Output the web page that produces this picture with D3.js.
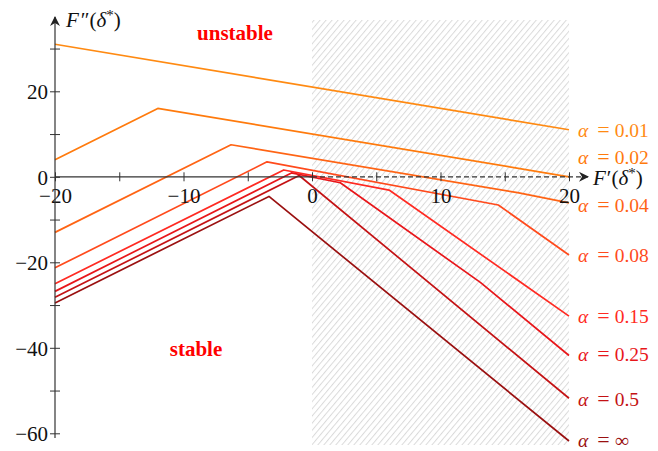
<!DOCTYPE html>
<html><head><meta charset="utf-8">
<script src="https://cdn.jsdelivr.net/npm/d3@7"></script>
<style>body{margin:0;background:#fff} svg{display:block}</style>
</head><body>
<svg id="c" width="658" height="451"></svg>
<script>
// ---- data ----
const alphaNames = ["0.01","0.02","0.04","0.08","0.15","0.25","0.5","∞"];
const lineColors = ["#ff8a12","#ff7a0c","#ff6414","#ff4a1c","#ff2a22","#e8161a","#c41214","#9a1010"];
const a001 = [[-20,31],[20,11]];
const a002 = [[-20,4],[-12,16],[20,0]];
const a004 = [[-20,-13],[-6.3,7.5],[16,-3.7],[20,-6.1]];
const a008 = [[-20,-21.3],[-3.5,3.5],[14.5,-6.6],[20,-18.3]];
const a015 = [[-20,-25],[-2.2,1.6],[6,-3.1],[20,-32.6]];
const a025 = [[-20,-26.8],[-1.6,0.9],[2.2,-1.4],[13.1,-24.7],[20,-41.8]];
const a05  = [[-20,-28.2],[-1.0,0.3],[20,-51.8]];
const aInf = [[-20,-29.5],[-3.35,-4.6],[20,-61.8]];
const labelAnchors = [11, 4.7, -6.6, -18.3, -32.6, -41.6, -52, -61.6];
const xTicks = [-20,-15,-10,-5,0,5,10,15,20];
const xTickLabels = [-20,-10,0,10,20];
const yTicks = [-60,-50,-40,-30,-20,-10,0,10,20,30];
const yTickLabels = [-60,-40,-20,0,20];
const series = [a001,a002,a004,a008,a015,a025,a05,aInf];

// ---- drawing ----
const svg = d3.select("#c");
const x = d3.scaleLinear([-20,20],[55,569]);
const y = d3.scaleLinear([-60,20],[433.3,91.3]);
const serif = "'Liberation Serif','DejaVu Serif',serif";
const minus = v => (v<0 ? "\u2212"+Math.abs(v) : ""+v);

// hatch pattern
const defs = svg.append("defs");
const pat = defs.append("pattern").attr("id","hatch").attr("patternUnits","userSpaceOnUse")
  .attr("width",4.6).attr("height",10).attr("patternTransform","rotate(40)");
pat.append("line").attr("x1",0.5).attr("y1",0).attr("x2",0.5).attr("y2",10)
  .attr("stroke","#dadada").attr("stroke-width",1);
svg.append("rect").attr("x",x(0)).attr("y",20).attr("width",x(20)-x(0)).attr("height",425)
  .attr("fill","url(#hatch)");

// arrow marker
defs.append("marker").attr("id","arr").attr("viewBox","0 0 10 10").attr("refX",9).attr("refY",5)
  .attr("markerWidth",10).attr("markerHeight",10).attr("markerUnits","userSpaceOnUse").attr("orient","auto")
  .append("path").attr("d","M0,0 L10,5 L0,10 L3,5 Z").attr("fill","#222");

// lines
const line = d3.line().x(d=>x(d[0])).y(d=>y(d[1]));
series.forEach((s,i)=>{
  svg.append("path").attr("d",line(s)).attr("fill","none")
    .attr("stroke",lineColors[i]).attr("stroke-width",1.7).attr("stroke-linejoin","round");
});

// x axis
const gx = svg.append("g").attr("transform",`translate(0,${y(0)})`)
  .call(d3.axisBottom(x).tickValues(xTicks).tickSize(0)
    .tickFormat(d=>xTickLabels.includes(d)?minus(d):""));
gx.select(".domain").remove();
gx.selectAll(".tick line").attr("y1",-4.5).attr("y2",4.5).attr("stroke","#333").attr("stroke-width",1);
gx.selectAll(".tick text").attr("y",11).attr("dy","0.71em").attr("font-family",serif)
  .attr("font-size",21).attr("fill","#111");
svg.append("line").attr("x1",x(-20)).attr("x2",x(0)).attr("y1",y(0)).attr("y2",y(0))
  .attr("stroke","#333").attr("stroke-width",1.2);
svg.append("line").attr("x1",x(0)).attr("x2",588).attr("y1",y(0)).attr("y2",y(0))
  .attr("stroke","#333").attr("stroke-width",1.2).attr("stroke-dasharray","5,3")
  .attr("marker-end","url(#arr)");

// y axis
const gy = svg.append("g").attr("transform",`translate(${x(-20)},0)`)
  .call(d3.axisLeft(y).tickValues(yTicks).tickSize(0)
    .tickFormat(d=>yTickLabels.includes(d)?minus(d):""));
gy.select(".domain").remove();
gy.selectAll(".tick line").attr("x1",-5).attr("x2",5).attr("stroke","#333").attr("stroke-width",1);
gy.selectAll(".tick text").attr("x",-7).attr("dy","0.36em").attr("font-family",serif)
  .attr("font-size",21).attr("fill","#111");
svg.append("line").attr("x1",x(-20)).attr("x2",x(-20)).attr("y1",438).attr("y2",17)
  .attr("stroke","#333").attr("stroke-width",1.2).attr("marker-end","url(#arr)");

// axis titles
function title(px,py){
  const t = svg.append("text").attr("x",px).attr("y",py).attr("font-family",serif).attr("font-size",21).attr("fill","#111");
  return t;
}
const t1 = title(66,27);
t1.append("tspan").attr("font-style","italic").text("F");
t1.append("tspan").attr("dx",2).text("″(");
t1.append("tspan").attr("font-style","italic").text("δ");
t1.append("tspan").attr("dy",-7).attr("font-size",15).text("*");
t1.append("tspan").attr("dy",7).text(")");
const t2 = title(593,185);
t2.append("tspan").attr("font-style","italic").text("F");
t2.append("tspan").attr("dx",1).text("′(");
t2.append("tspan").attr("font-style","italic").text("δ");
t2.append("tspan").attr("dy",-7).attr("font-size",15).text("*");
t2.append("tspan").attr("dy",7).text(")");

// legend labels
alphaNames.forEach((n,i)=>{
  const t = svg.append("text").attr("x",578).attr("y",y(labelAnchors[i])).attr("dy","0.35em")
    .attr("font-family",serif).attr("font-size",19.5).attr("fill",lineColors[i]);
  t.append("tspan").attr("font-style","italic").text("α");
  t.append("tspan").attr("dx",9).attr("font-size",22).text("=");
  t.append("tspan").attr("dx",5).text(n);
});

// region labels
svg.append("text").attr("x",235).attr("y",40).attr("text-anchor","middle").attr("font-family",serif)
  .attr("font-weight","bold").attr("font-size",21).attr("fill","#f00").text("unstable");
svg.append("text").attr("x",196).attr("y",356).attr("text-anchor","middle").attr("font-family",serif)
  .attr("font-weight","bold").attr("font-size",21).attr("fill","#f00").text("stable");
</script>
</body></html>
